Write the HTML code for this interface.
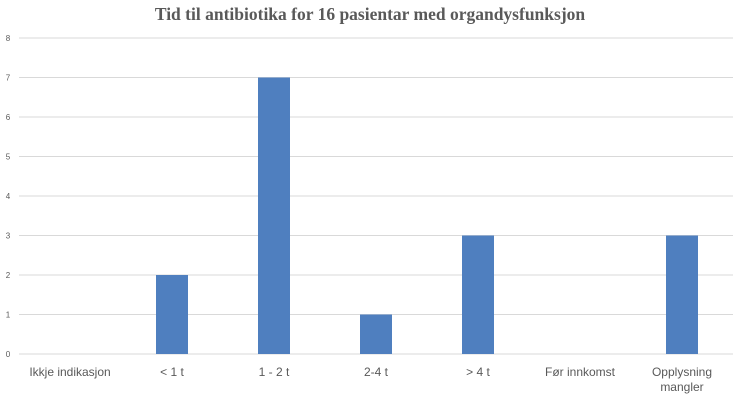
<!DOCTYPE html>
<html><head><meta charset="utf-8"><style>
body{margin:0;background:#fff;width:740px;height:403px;overflow:hidden}
svg{display:block}
</style></head><body>
<svg width="740" height="403" id="c">
<text x="370" y="20" text-anchor="middle" font-family="Liberation Serif, serif" font-weight="bold" font-size="17.5" fill="#595959">Tid til antibiotika for 16 pasientar med organdysfunksjon</text>
<g id="grid"></g><g id="bars"></g><g id="labels"></g>
</svg>
<script>
const categories=["Ikkje indikasjon","< 1 t","1 - 2 t","2-4 t","> 4 t","Før innkomst","Opplysning|mangler"];
const values=[0,2,7,1,3,0,3];
const yTicks=[0,1,2,3,4,5,6,7,8];
const ns="http://www.w3.org/2000/svg";
const L=19,R=733,Y0=354,Y8=38;
const y=v=>Y0-(Y0-Y8)*v/8;
const band=(R-L)/categories.length;
const x=i=>L+band*(i+0.5);
function mk(t,a,p){const e=document.createElementNS(ns,t);for(const k in a)e.setAttribute(k,a[k]);document.getElementById(p).appendChild(e);return e;}
yTicks.forEach(t=>{
 const g=mk("line",{x1:L,x2:R,y1:y(t),y2:y(t),stroke:"#d9d9d9","stroke-width":1},"grid");
 
 
 const l=mk("text",{x:8,y:y(t)+3,"text-anchor":"middle","font-family":"Liberation Sans, sans-serif","font-size":"8",fill:"#595959"},"labels");
 l.textContent=t;
 
 
});
values.forEach((v,i)=>{
 if(v>0){const b=mk("rect",{x:x(i)-16,y:y(v),width:32,height:Y0-y(v),fill:"#4f7fbf"},"bars");
 
 }
 const parts=categories[i].split("|");
 parts.forEach((p,j)=>{
  const t=mk("text",{x:x(i),y:376+j*15,"text-anchor":"middle","font-family":"Liberation Sans, sans-serif","font-size":"12",fill:"#595959"},"labels");
  t.textContent=p;
  
  
 });
});
</script>
</body></html>
